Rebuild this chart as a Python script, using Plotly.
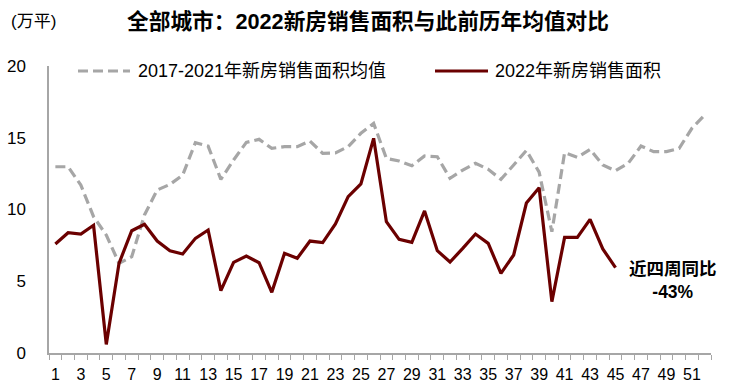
import plotly.graph_objects as go

weeks = list(range(1, 53))
avg_2017_2021 = [12.98, 12.98, 11.7, 9.5, 8.22, 6.25, 6.71, 9.62, 11.36, 11.75,
                 12.4, 14.66, 14.42, 12.1, 13.45, 14.68, 14.89, 14.26, 14.38, 14.38,
                 14.77, 13.91, 13.95, 14.38, 15.31, 16.0, 13.56, 13.38, 13.05, 13.73,
                 13.68, 12.17, 12.75, 13.22, 12.8, 12.1, 13.1, 14.12, 12.6, 8.45,
                 13.96, 13.63, 14.19, 13.1, 12.7, 13.22, 14.42, 14.03, 14.03, 14.26,
                 15.66, 16.58]
sales_2022 = [7.6, 8.38, 8.29, 8.9, 0.6, 6.25, 8.52, 8.97, 7.8, 7.13,
              6.9, 7.99, 8.57, 4.34, 6.32, 6.76, 6.29, 4.23, 6.95, 6.6,
              7.8, 7.69, 8.99, 10.9, 11.78, 14.96, 9.15, 7.92, 7.71, 9.9,
              7.13, 6.34, 7.29, 8.29, 7.64, 5.55, 6.83, 10.45, 11.52, 3.58,
              8.06, 8.06, 9.31, 7.25, 5.95]
x_labels = list(range(1, 52, 2))
y_ticks = [0, 5, 10, 15, 20]
series_names = ["2017-2021年新房销售面积均值", "2022年新房销售面积"]
series_colors = ["#A6A6A6", "#6B0000"]
series_dash = ["10px,5px", "solid"]

FONT = "Liberation Sans, Arial, Noto Sans CJK SC, sans-serif"

# plot area in pixels (for placing decorations)
L, R, T, B = 49, 711, 66, 353
def px(x):
    return (x - L) / (R - L)
def py(y):
    return (B - y) / (B - T)

fig = go.Figure()
fig.add_trace(go.Scatter(
    x=weeks, y=avg_2017_2021, mode="lines", name=series_names[0],
    line=dict(color=series_colors[0], width=3.2, dash=series_dash[0])))
fig.add_trace(go.Scatter(
    x=weeks[:len(sales_2022)], y=sales_2022, mode="lines", name=series_names[1],
    line=dict(color=series_colors[1], width=3.2)))

# custom legend (symbol line + text)
legend_shapes = []
legend_annots = []
for (x0, x1, tx), name, col, dash in zip([(78, 130, 136), (435, 488, 493)],
                                         series_names, series_colors, series_dash):
    legend_shapes.append(dict(type="line", xref="paper", yref="paper",
                              x0=px(x0), x1=px(x1), y0=py(71), y1=py(71),
                              line=dict(color=col, width=3.2, dash=dash)))
    legend_annots.append(dict(text=name, xref="paper", yref="paper", x=px(tx), y=py(71),
                              xanchor="left", yanchor="middle", showarrow=False,
                              font=dict(size=18, family=FONT, color="black")))

fig.update_layout(
    width=743, height=392,
    margin=dict(l=L, r=743 - R, t=T, b=392 - B),
    paper_bgcolor="white", plot_bgcolor="white",
    font=dict(family=FONT, size=17, color="black"),
    showlegend=False,
    xaxis=dict(range=[0.5, 52.5], tickmode="array", tickvals=x_labels,
               ticktext=[str(v) for v in x_labels], ticks="", showgrid=False,
               showline=True, linecolor="#A6A6A6", linewidth=1.5, zeroline=False,
               tickfont=dict(size=16), ticklabelstandoff=6, automargin=False,
               minor=dict(tickmode="array", tickvals=[v + 0.5 for v in range(0, 53)],
                          ticks="outside", ticklen=5, tickcolor="#A6A6A6", tickwidth=1,
                          showgrid=False)),
    yaxis=dict(range=[0, 20], tickmode="array", tickvals=y_ticks, ticks="",
               showgrid=False, showline=True, linecolor="#A6A6A6", linewidth=1.5,
               zeroline=False, tickfont=dict(size=17), ticklabelstandoff=18,
               automargin=False),
    shapes=legend_shapes,
    annotations=legend_annots + [
        dict(text="<b>全部城市：2022新房销售面积与此前历年均值对比</b>", xref="paper", yref="paper",
             x=px(368), y=py(22), xanchor="center", yanchor="middle",
             showarrow=False, font=dict(size=21.7, family=FONT, color="black")),
        dict(text="(万平)", xref="paper", yref="paper",
             x=px(9), y=py(22), xanchor="left", yanchor="middle",
             showarrow=False, font=dict(size=17, family=FONT)),
        dict(text="<b>近四周同比</b><br><b>-43%</b>", xref="paper", yref="paper",
             x=px(673), y=py(280), xanchor="center", yanchor="middle",
             showarrow=False, align="center", font=dict(size=17.5, family=FONT)),
    ],
)

fig.write_html("out.html", config={"displayModeBar": False},
               post_script="document.body.style.margin='0';")
